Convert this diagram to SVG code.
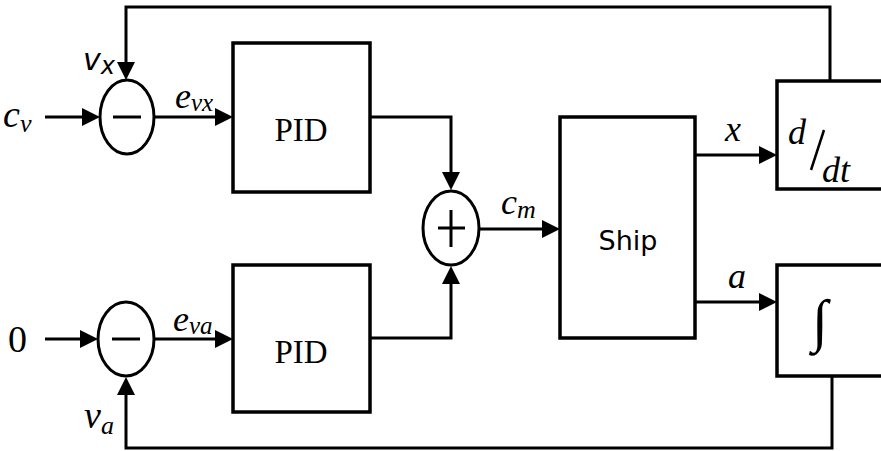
<svg xmlns="http://www.w3.org/2000/svg" width="881" height="451" viewBox="0 0 881 451">
<defs>
<style>
.ln{fill:none;stroke:#000;stroke-width:3}
.ar{fill:#000}
.bx{fill:#fff;stroke:#000;stroke-width:3.5}
</style>
</defs>
<rect width="881" height="451" fill="#fff"/>
<g id="connectors">
<path class="ln" d="M45,117 H82"/><path class="ar" d="M82,108 L100,117 L82,126 Z"/>
<path class="ln" d="M155,117 H215"/><path class="ar" d="M215,108 L233,117 L215,126 Z"/>
<path class="ln" d="M830,81 V7 H126 V62"/><path class="ar" d="M117,62 L126,80 L135,62 Z"/>
<path class="ln" d="M45,339 H80"/><path class="ar" d="M80,330 L98,339 L80,348 Z"/>
<path class="ln" d="M154,339 H215"/><path class="ar" d="M215,330 L233,339 L215,348 Z"/>
<path class="ln" d="M832,376 V448 H126 V395"/><path class="ar" d="M117,395 L126,377 L135,395 Z"/>
<path class="ln" d="M370,117 H451 V172"/><path class="ar" d="M442,172 L451,190 L460,172 Z"/>
<path class="ln" d="M370,338 H451 V284"/><path class="ar" d="M442,284 L451,266 L460,284 Z"/>
<path class="ln" d="M479,229 H542"/><path class="ar" d="M542,220 L560,229 L542,238 Z"/>
<path class="ln" d="M695,155 H759"/><path class="ar" d="M759,146 L777,155 L759,164 Z"/>
<path class="ln" d="M695,302 H759"/><path class="ar" d="M759,293 L777,302 L759,311 Z"/>
</g>
<g id="sub1">
<ellipse class="ln" cx="127" cy="117" rx="27" ry="37"/>
<path class="ln" d="M113,117 H141"/>
</g>
<g id="sub2">
<ellipse class="ln" cx="126" cy="339" rx="28" ry="37"/>
<path class="ln" d="M112,339 H140"/>
</g>
<g id="sum">
<ellipse class="ln" cx="451" cy="228" rx="28" ry="37"/>
<path class="ln" d="M438,228 H465 M451,210 V247"/>
</g>
<g id="pid1">
<rect class="bx" x="233" y="43" width="137" height="149"/>
<text x="301" y="141" font-size="33" text-anchor="middle" font-family="Liberation Serif, Times New Roman, serif">PID</text>
</g>
<g id="pid2">
<rect class="bx" x="233" y="265" width="137" height="147"/>
<text x="301" y="363" font-size="33" text-anchor="middle" font-family="Liberation Serif, Times New Roman, serif">PID</text>
</g>
<g id="ship">
<rect class="bx" x="560" y="117" width="135" height="221"/>
<text x="628" y="250" font-size="27" text-anchor="middle" font-family="DejaVu Sans, sans-serif">Ship</text>
</g>
<g id="ddt" font-family="Liberation Serif, Times New Roman, serif" font-style="italic">
<rect class="bx" x="777" y="81" width="110" height="108"/>
<text x="788" y="144" font-size="36">d</text>
<path d="M824,130 L811,170" stroke="#000" stroke-width="2.5"/>
<text x="822" y="182" font-size="36">dt</text>
</g>
<g id="integ">
<rect class="bx" x="777" y="265" width="110" height="111"/>
<text x="812" y="340" font-size="58" font-family="Liberation Serif, Times New Roman, serif" font-style="italic">∫</text>
</g>
<g id="labels" font-family="Liberation Serif, Times New Roman, serif" font-style="italic">
<text x="3" y="127" font-size="38">c<tspan font-size="26" dy="5">v</tspan></text>
<text x="83" y="70" font-size="30" font-family="DejaVu Sans, sans-serif" font-style="italic">v<tspan font-size="24" dy="4">x</tspan></text>
<text x="175" y="108" font-size="36">e<tspan font-size="25" dy="3">vx</tspan></text>
<text x="8" y="352" font-size="38" font-style="normal">0</text>
<text x="173" y="331" font-size="36">e<tspan font-size="25" dy="3">va</tspan></text>
<text x="84" y="428" font-size="38">v<tspan font-size="26" dy="6">a</tspan></text>
<text x="501" y="214" font-size="36">c<tspan font-size="26" dy="4">m</tspan></text>
<text x="725" y="141" font-size="36">x</text>
<text x="728" y="288" font-size="36">a</text>
</g>
</svg>
